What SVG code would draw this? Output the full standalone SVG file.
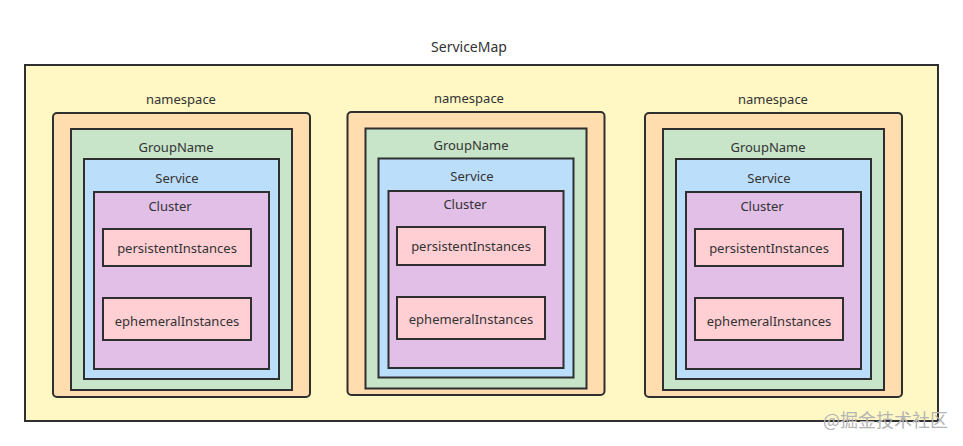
<svg xmlns="http://www.w3.org/2000/svg" width="963" height="446" viewBox="0 0 963 446">
<style>
  .b { stroke: #2f2f2f; stroke-width: 2; }
  .map { fill: #fff8c4; }
  .ns { fill: #ffddae; }
  .gn { fill: #c8e5c9; }
  .sv { fill: #bbdefb; }
  .cl { fill: #e1bfe6; }
  .in { fill: #ffcfd3; }
  text { font-family: "Noto Sans", "Open Sans", sans-serif; font-size: 13px; fill: #333; text-anchor: middle; }
  .title { font-size: 14px; }
  .wm { font-family: "Noto Sans CJK SC", "Noto Sans", sans-serif; font-size: 18px; fill: #b4b4b4; text-anchor: start; }
</style>
<rect width="963" height="446" fill="#ffffff"/>
<g id="servicemap">
  <rect class="b map" x="25" y="65" width="913" height="356"/>
  <text class="title" x="469" y="52">ServiceMap</text>
</g>
<g id="ns1">
  <rect class="b ns" x="53" y="113" width="257" height="284" rx="4"/>
  <text x="181" y="104">namespace</text>
  <g id="gn1">
    <rect class="b gn" x="71" y="129" width="221" height="261"/>
    <text x="176" y="152">GroupName</text>
  </g>
  <g id="sv1">
    <rect class="b sv" x="84" y="159" width="195" height="220"/>
    <text x="177" y="183">Service</text>
  </g>
  <g id="cl1">
    <rect class="b cl" x="94" y="192" width="175" height="177"/>
    <text x="170" y="211">Cluster</text>
  </g>
  <g id="pi1">
    <rect class="b in" x="103" y="229" width="148" height="37"/>
    <text x="177" y="253">persistentInstances</text>
  </g>
  <g id="ei1">
    <rect class="b in" x="103" y="298" width="148" height="42"/>
    <text x="177" y="326">ephemeralInstances</text>
  </g>
</g>
<g id="ns2">
  <rect class="b ns" x="347.5" y="112" width="257" height="283" rx="4"/>
  <text x="469" y="103">namespace</text>
  <g id="gn2">
    <rect class="b gn" x="365.5" y="128.5" width="221" height="260"/>
    <text x="471" y="150">GroupName</text>
  </g>
  <g id="sv2">
    <rect class="b sv" x="378.5" y="158.5" width="195" height="219"/>
    <text x="472" y="181">Service</text>
  </g>
  <g id="cl2">
    <rect class="b cl" x="388.5" y="191" width="175" height="177"/>
    <text x="465" y="209">Cluster</text>
  </g>
  <g id="pi2">
    <rect class="b in" x="397" y="227" width="148" height="38"/>
    <text x="471" y="251">persistentInstances</text>
  </g>
  <g id="ei2">
    <rect class="b in" x="397" y="297" width="148" height="42"/>
    <text x="471" y="324">ephemeralInstances</text>
  </g>
</g>
<g id="ns3">
  <rect class="b ns" x="645" y="113" width="257" height="284" rx="4"/>
  <text x="773" y="104">namespace</text>
  <g id="gn3">
    <rect class="b gn" x="663" y="129" width="221" height="261"/>
    <text x="768" y="152">GroupName</text>
  </g>
  <g id="sv3">
    <rect class="b sv" x="676" y="159" width="195" height="220"/>
    <text x="769" y="183">Service</text>
  </g>
  <g id="cl3">
    <rect class="b cl" x="686" y="192" width="175" height="177"/>
    <text x="762" y="211">Cluster</text>
  </g>
  <g id="pi3">
    <rect class="b in" x="695" y="229" width="148" height="37"/>
    <text x="769" y="253">persistentInstances</text>
  </g>
  <g id="ei3">
    <rect class="b in" x="695" y="298" width="148" height="42"/>
    <text x="769" y="326">ephemeralInstances</text>
  </g>
</g>
<g id="connectors"></g>
<text class="wm" x="823" y="427" textLength="125" lengthAdjust="spacingAndGlyphs">@掘金技术社区</text>
</svg>
